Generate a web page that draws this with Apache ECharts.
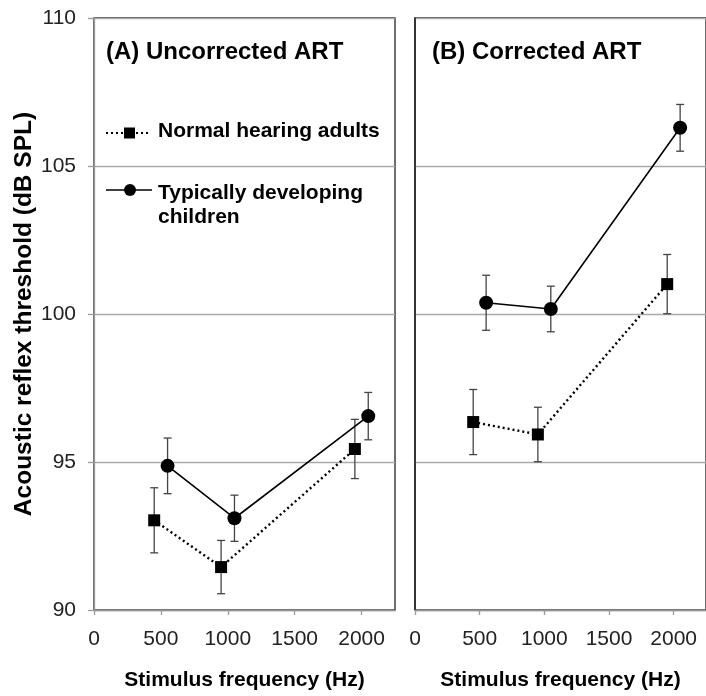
<!DOCTYPE html>
<html>
<head>
<meta charset="utf-8">
<script src="https://cdn.jsdelivr.net/npm/echarts@6/dist/echarts.min.js"></script>
<style>
html,body{margin:0;padding:0;background:#fff;}
#chart{width:706px;height:696px;}
</style>
</head>
<body>
<div id="chart"></div>
<script>
// ---- data ----
const freqAdults = [450, 950, 1950];
const freqChildren = [550, 1050, 2050];
const uncorrAdults = [93.03, 91.45, 95.44];
const uncorrAdultsErr = [1.1, 0.9, 1.0];
const uncorrChildren = [94.87, 93.10, 96.55];
const uncorrChildrenErr = [0.94, 0.78, 0.8];
const corrAdults = [96.35, 95.93, 101.01];
const corrAdultsErr = [1.1, 0.92, 1.0];
const corrChildren = [100.38, 100.17, 106.29];
const corrChildrenErr = [0.93, 0.77, 0.79];
const panelTitles = ['(A) Uncorrected ART', '(B) Corrected ART'];
const legendNames = ['Normal hearing adults', 'Typically developing\nchildren'];

const FONT = '"Liberation Sans", Arial, sans-serif';
const chart = echarts.init(document.getElementById('chart'), null, {renderer: 'canvas'});

function pts(xs, ys) { return xs.map((x, i) => [x, ys[i]]); }
function errPts(xs, ys, es) { return xs.map((x, i) => [x, ys[i], es[i]]); }

function errRender(params, api) {
  const x = api.value(0), y = api.value(1), e = api.value(2);
  const t = api.coord([x, y + e]);
  const b = api.coord([x, y - e]);
  const hw = 4;
  const st = {stroke: '#444', lineWidth: 1.3};
  return {
    type: 'group',
    children: [
      {type: 'line', shape: {x1: t[0], y1: t[1], x2: b[0], y2: b[1]}, style: st},
      {type: 'line', shape: {x1: t[0] - hw, y1: t[1], x2: t[0] + hw, y2: t[1]}, style: st},
      {type: 'line', shape: {x1: b[0] - hw, y1: b[1], x2: b[0] + hw, y2: b[1]}, style: st}
    ]
  };
}

function xAxisCfg(gi) {
  return {
    type: 'value', gridIndex: gi, min: 0, max: 2250, interval: 500,
    name: 'Stimulus frequency (Hz)', nameLocation: 'middle', nameGap: 60,
    nameTextStyle: {fontFamily: FONT, fontWeight: 'bold', fontSize: 21, color: '#000'},
    axisLine: {show: true, lineStyle: {color: '#999', width: 1.3}},
    axisTick: {show: true, length: 5, inside: false, lineStyle: {color: '#999', width: 1.3}},
    axisLabel: {fontFamily: FONT, fontSize: 21, color: '#222', margin: 19, showMaxLabel: false,
      formatter: v => String(v)},
    splitLine: {show: false}
  };
}

const option = {
  animation: false,
  backgroundColor: '#fff',
  grid: [
    {left: 94, top: 18, width: 301, height: 598.5, show: true, borderColor: '#222', borderWidth: 1.3, backgroundColor: 'transparent'},
    {left: 415, top: 18, width: 298.5, height: 598.5, show: true, borderColor: '#222', borderWidth: 1.3, backgroundColor: 'transparent'}
  ],
  xAxis: [xAxisCfg(0), xAxisCfg(1)],
  yAxis: [
    {
      type: 'value', gridIndex: 0, min: 90, max: 110, interval: 5,
      name: 'Acoustic reflex threshold (dB SPL)', nameLocation: 'middle', nameGap: 57,
      nameTextStyle: {fontFamily: FONT, fontWeight: 'bold', fontSize: 24.5, color: '#000'},
      axisLine: {show: true, lineStyle: {color: '#999', width: 1.3}},
      axisTick: {show: true, length: 6, lineStyle: {color: '#999', width: 1.3}},
      axisLabel: {fontFamily: FONT, fontSize: 21, color: '#222', margin: 18},
      splitLine: {show: true, lineStyle: {color: '#aaa', width: 1.3}}
    },
    {
      type: 'value', gridIndex: 1, min: 90, max: 110, interval: 5,
      axisLine: {show: true, lineStyle: {color: '#222', width: 1.5}},
      axisTick: {show: false},
      axisLabel: {show: false},
      splitLine: {show: true, lineStyle: {color: '#aaa', width: 1.3}}
    }
  ],
  series: [
    {type: 'custom', xAxisIndex: 0, yAxisIndex: 0, renderItem: errRender, data: errPts(freqAdults, uncorrAdults, uncorrAdultsErr), z: 2},
    {type: 'custom', xAxisIndex: 0, yAxisIndex: 0, renderItem: errRender, data: errPts(freqChildren, uncorrChildren, uncorrChildrenErr), z: 2},
    {type: 'custom', xAxisIndex: 1, yAxisIndex: 1, renderItem: errRender, data: errPts(freqAdults, corrAdults, corrAdultsErr), z: 2},
    {type: 'custom', xAxisIndex: 1, yAxisIndex: 1, renderItem: errRender, data: errPts(freqChildren, corrChildren, corrChildrenErr), z: 2},
    {type: 'line', xAxisIndex: 0, yAxisIndex: 0, data: pts(freqAdults, uncorrAdults), symbol: 'rect', symbolSize: 12,
      itemStyle: {color: '#000'}, lineStyle: {color: '#000', width: 2.4, type: [2, 3]}, z: 3},
    {type: 'line', xAxisIndex: 0, yAxisIndex: 0, data: pts(freqChildren, uncorrChildren), symbol: 'circle', symbolSize: 14,
      itemStyle: {color: '#000'}, lineStyle: {color: '#000', width: 1.6}, z: 3},
    {type: 'line', xAxisIndex: 1, yAxisIndex: 1, data: pts(freqAdults, corrAdults), symbol: 'rect', symbolSize: 12,
      itemStyle: {color: '#000'}, lineStyle: {color: '#000', width: 2.4, type: [2, 3]}, z: 3},
    {type: 'line', xAxisIndex: 1, yAxisIndex: 1, data: pts(freqChildren, corrChildren), symbol: 'circle', symbolSize: 14,
      itemStyle: {color: '#000'}, lineStyle: {color: '#000', width: 1.6}, z: 3}
  ],
  graphic: [
    {type: 'text', left: 106, top: 40, style: {text: panelTitles[0], font: 'bold 24px ' + FONT, fill: '#000'}},
    {type: 'text', left: 432, top: 40, style: {text: panelTitles[1], font: 'bold 24px ' + FONT, fill: '#000'}},
    // legend: adults
    {type: 'line', shape: {x1: 106, y1: 133, x2: 151, y2: 133}, style: {stroke: '#000', lineWidth: 2.2, lineDash: [2, 3]}},
    {type: 'rect', shape: {x: 124, y: 127.5, width: 11, height: 11}, style: {fill: '#000'}},
    {type: 'text', left: 158, top: 121, style: {text: legendNames[0], font: 'bold 21px ' + FONT, fill: '#000'}},
    // legend: children
    {type: 'line', shape: {x1: 106, y1: 190, x2: 152, y2: 190}, style: {stroke: '#000', lineWidth: 1.6}},
    {type: 'circle', shape: {cx: 130, cy: 190, r: 6}, style: {fill: '#000'}},
    {type: 'text', left: 158, top: 181, style: {text: legendNames[1], font: 'bold 21px ' + FONT, fill: '#000', lineHeight: 24}}
  ]
};
chart.setOption(option);
</script>
</body>
</html>
